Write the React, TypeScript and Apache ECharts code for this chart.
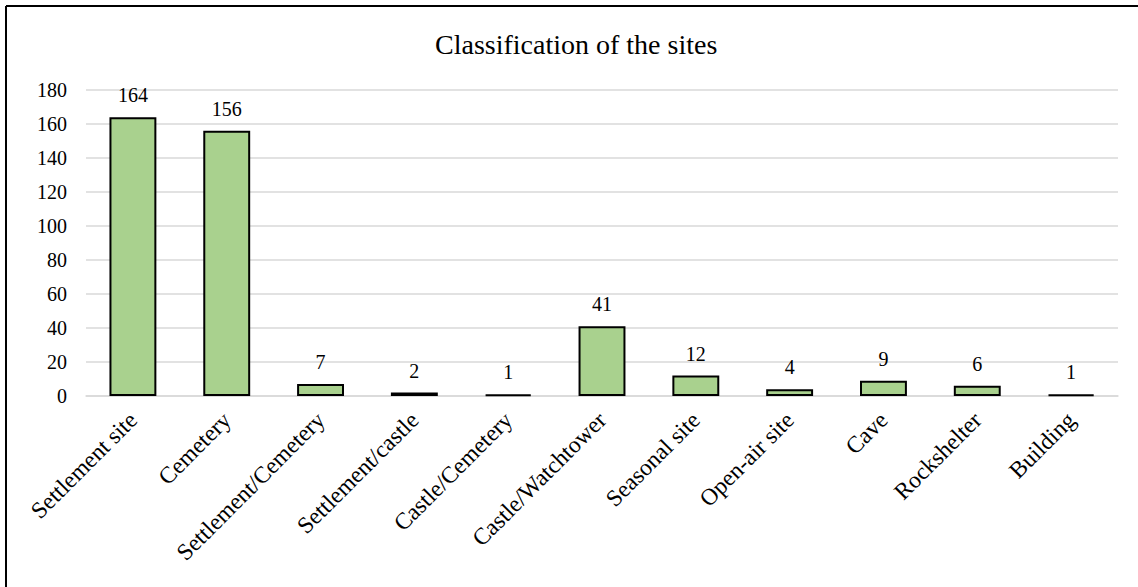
import React, { useEffect, useRef } from "react";
import * as echarts from "echarts";

const categories = [
  "Settlement site",
  "Cemetery",
  "Settlement/Cemetery",
  "Settlement/castle",
  "Castle/Cemetery",
  "Castle/Watchtower",
  "Seasonal site",
  "Open-air site",
  "Cave",
  "Rockshelter",
  "Building",
];
const values = [164, 156, 7, 2, 1, 41, 12, 4, 9, 6, 1];
const titleText = "Classification of the sites";

export default function App() {
  const ref = useRef<HTMLDivElement>(null);
  useEffect(() => {
    if (!ref.current) return;
    const chart = echarts.init(ref.current, null, { renderer: "svg" });
    const font = "'Liberation Serif', 'Times New Roman', serif";
    chart.setOption({
      animation: false,
      textStyle: { fontFamily: font },
      title: {
        text: titleText,
        left: 430,
        top: 25,
        textStyle: { fontFamily: font, fontSize: 28, fontWeight: "normal", color: "#000" },
      },
      grid: { left: 86, right: 20, top: 90, bottom: 191, containLabel: false },
      xAxis: {
        type: "category",
        data: categories,
        axisLine: { show: true, lineStyle: { color: "#D9D9D9", width: 1.5 } },
        axisTick: { show: false },
        axisLabel: {
          rotate: 45,
          interval: 0,
          fontFamily: font,
          fontSize: 23.5,
          color: "#000",
          margin: 20,
        },
      },
      yAxis: {
        type: "value",
        min: 0,
        max: 180,
        interval: 20,
        axisLine: { show: false },
        axisTick: { show: false },
        splitLine: { lineStyle: { color: "#D9D9D9", width: 1.5 } },
        axisLabel: { fontFamily: font, fontSize: 20, color: "#000", margin: 19 },
      },
      series: [
        {
          type: "bar",
          data: values,
          barCategoryGap: "50%",
          itemStyle: { color: "#A9D18E", borderColor: "#000", borderWidth: 2 },
          label: {
            show: true,
            position: "top",
            distance: 12,
            fontFamily: font,
            fontSize: 20,
            color: "#000",
          },
        },
      ],
      graphic: [
        { type: "line", shape: { x1: 6, y1: 6, x2: 1138, y2: 6 }, style: { stroke: "#000", lineWidth: 2 } },
        { type: "line", shape: { x1: 6, y1: 6, x2: 6, y2: 587 }, style: { stroke: "#000", lineWidth: 2 } },
      ],
    });
    return () => chart.dispose();
  }, []);
  return <div ref={ref} style={{ width: 1138, height: 587, position: "absolute", left: 0, top: 0, background: "#fff" }} />;
}
